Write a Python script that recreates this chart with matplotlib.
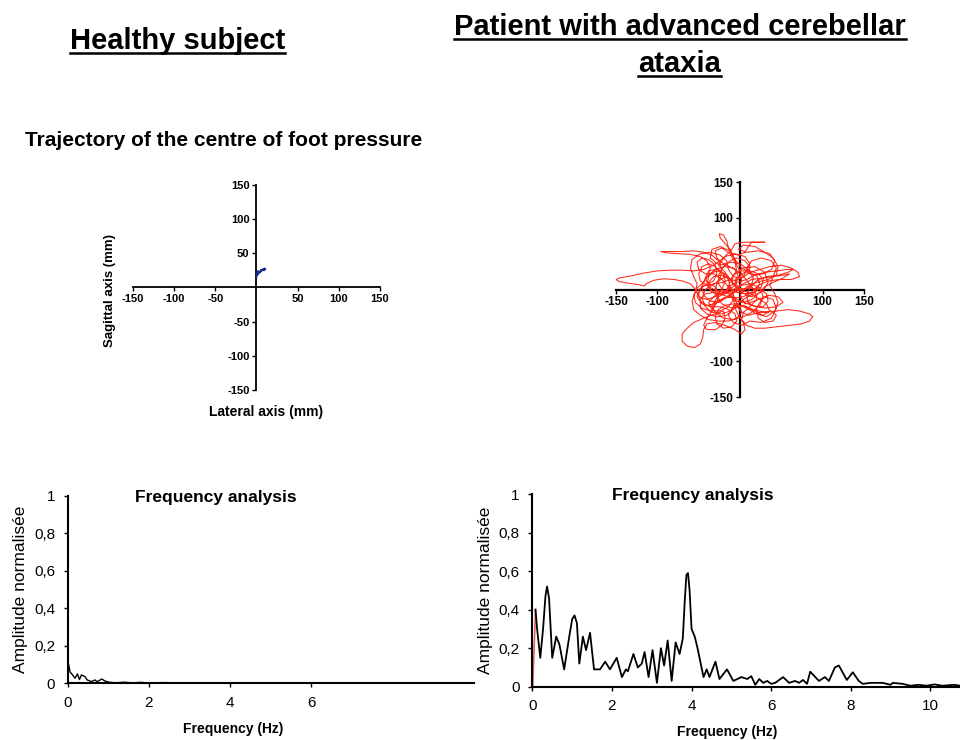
import numpy as np
import matplotlib
matplotlib.use('Agg')
import matplotlib.pyplot as plt
from matplotlib.lines import Line2D

plt.rcParams['axes.unicode_minus'] = False
SANS = ['Liberation Sans', 'DejaVu Sans']

# centre of pressure, healthy subject (mm)
healthy_x = [0, 0, 2, 1, 4, 6, 5, 8, 10, 9, 11, 7, 3, 1]
healthy_y = [15, 20, 22, 24, 23, 26, 24, 27, 28, 25, 27, 25, 21, 18]

# centre of pressure, ataxic patient (mm), traced by hand
patient_xy = [
    (-5, 5), (-12, 14), (-22, 20), (-32, 18), (-38, 10), (-36, 0), (-28, -6), (-18, -4),
    (-12, 4), (-14, 14), (-22, 24), (-30, 32), (-38, 36), (-46, 32), (-50, 22), (-48, 12),
    (-40, 6), (-30, 8), (-24, 16), (-22, 28), (-26, 40), (-34, 48), (-44, 52), (-56, 54),
    (-70, 53), (-84, 53), (-96, 53), (-88, 51), (-74, 50), (-60, 49), (-48, 46), (-40, 40),
    (-36, 30), (-38, 20), (-44, 10), (-52, 2), (-56, -8), (-54, -18), (-46, -26), (-36, -30),
    (-24, -30), (-14, -24), (-8, -14), (-8, -4), (-14, 4),
    (-4, 10), (8, 14), (18, 20), (30, 24), (44, 26), (56, 28), (64, 28), (58, 24), (46, 20),
    (32, 18), (20, 12), (12, 2), (8, -8), (10, -18), (18, -24), (28, -24), (34, -16),
    (32, -6), (24, 0), (12, 2), (0, 0), (-10, -6),
    (-20, -14), (-30, -20), (-40, -22), (-48, -16), (-50, -6), (-46, 4), (-38, 8), (-30, 4),
    (-26, -6), (-28, -18), (-34, -30), (-40, -40), (-44, -50), (-40, -56), (-30, -56),
    (-22, -50), (-18, -40), (-20, -30),
    (-30, -34), (-44, -40), (-56, -46), (-64, -54), (-70, -62), (-70, -72), (-64, -79),
    (-55, -81), (-48, -76), (-45, -66), (-44, -56), (-40, -48),
    (-30, -46), (-18, -50), (-6, -56), (2, -62), (6, -56), (4, -46), (-2, -36), (-6, -26),
    (4, -22), (16, -28), (30, -32), (44, -30), (58, -28), (72, -30), (84, -34), (88, -38),
    (84, -44), (74, -48), (60, -50), (44, -52), (30, -54), (18, -54), (8, -50), (2, -42),
    (4, -32), (12, -24), (20, -14),
    (18, -2), (10, 10), (2, 22), (-4, 34), (-8, 46), (-12, 56), (-18, 64), (-24, 72),
    (-25, 78), (-20, 76), (-16, 68), (-14, 58), (-10, 50), (-2, 48), (6, 52), (10, 60),
    (14, 66), (22, 66), (30, 66), (18, 66), (4, 66), (-6, 64), (-10, 56),
    (-20, 44), (-32, 34), (-44, 28), (-56, 26), (-70, 27), (-86, 27), (-100, 26), (-116, 23),
    (-132, 19), (-146, 16), (-150, 14), (-146, 11), (-136, 9), (-124, 7), (-116, 5),
    (-112, 9), (-104, 13), (-92, 15), (-80, 14), (-70, 12), (-60, 8), (-54, 0),
    (-50, -10), (-40, -14), (-30, -10), (-22, 0), (-18, 12), (-20, 22), (-28, 28), (-38, 26),
    (-42, 16), (-38, 4), (-28, -2), (-16, -2), (-6, 6), (-2, 18), (-6, 28), (-16, 34),
    (-28, 36), (-36, 44), (-34, 56), (-24, 60), (-12, 54), (-6, 42), (2, 30), (12, 24),
    (24, 28), (36, 32), (50, 34), (62, 30), (70, 24), (72, 18), (62, 14), (48, 14), (34, 12),
    (22, 6), (14, -4), (4, -10), (-8, -12), (-20, -8), (-32, -4), (-42, -6), (-48, -14),
    (-48, -26), (-40, -34), (-28, -38), (-16, -36), (-8, -28), (-4, -18), (-8, -8),
    (-18, -4), (-28, -12), (-34, -22), (-30, -32), (-20, -40), (-8, -42), (4, -38),
    (14, -32), (24, -22), (28, -10), (24, 2), (14, 8), (2, 6), (-6, -2),
    (-16, -10), (-26, -18), (-36, -16), (-44, -8), (-46, 4), (-42, 16), (-34, 24), (-24, 26),
    (-16, 20), (-12, 10), (-16, 0), (-24, -6), (-34, -4), (-40, 6), (-38, 18), (-30, 28),
    (-18, 32), (-8, 30), (0, 22), (2, 12), (-2, 2), (-10, -4), (-20, -2), (-26, 8), (-26, 20),
    (-20, 32), (-12, 40), (-4, 44), (6, 40), (12, 32), (10, 22), (2, 16), (-8, 18), (-14, 28),
    (-16, 40), (-24, 48), (-36, 52), (-48, 50), (-58, 42), (-60, 30), (-56, 18), (-52, 8),
    (-54, -4), (-58, -16), (-56, -28), (-48, -36), (-38, -42), (-26, -44), (-14, -44),
    (-4, -40), (2, -32), (0, -24), (-8, -20), (-18, -22), (-26, -28), (-30, -38), (-28, -48),
    (-20, -54), (-10, -52), (-4, -44), (-6, -34), (-14, -28), (-24, -24), (-36, -24),
    (-46, -20), (-52, -10), (-50, 0), (-42, 6), (-32, 12), (-28, 22), (-30, 34), (-38, 42),
    (-46, 44), (-52, 38), (-50, 28), (-42, 22), (-32, 22), (-22, 14), (-14, 4), (-4, -4),
    (8, -6), (18, -4), (26, 4), (28, 14), (22, 22), (12, 26), (0, 26), (-8, 20), (-10, 10),
    (-4, 2), (6, 0), (14, 6), (16, 16), (10, 28), (0, 36), (-10, 38), (-20, 36), (-28, 44),
    (-30, 54), (-22, 58), (-12, 50), (-6, 38), (-4, 26), (-10, 16), (-20, 10), (-32, 8),
    (-42, 0), (-46, -12), (-42, -24), (-34, -32), (-22, -34), (-12, -30), (-6, -20),
    (-10, -10), (-20, -12), (-30, -18), (-34, -28), (-38, -18), (-30, -8), (-18, -6),
    (-8, 0), (4, 8), (14, 14), (28, 16), (40, 18), (52, 20), (60, 22), (52, 16), (40, 10),
    (30, 4), (22, -6), (14, -14), (4, -18), (-6, -16), (-12, -8),
    (0, -16), (14, -22), (30, -26), (44, -24), (52, -18), (46, -10), (34, -8), (26, -14),
    (20, -26), (22, -40), (30, -46), (40, -44), (44, -36), (38, -30), (24, -32), (10, -36),
    (0, -30), (-4, -20),
    (8, -26), (20, -34), (32, -38), (42, -30), (46, -18), (42, -6), (36, 6), (40, 18),
    (44, 30), (38, 40), (26, 44), (14, 40), (8, 30), (16, 20), (28, 22), (38, 28), (42, 40),
    (36, 50), (22, 54), (8, 52), (-2, 56), (4, 62), (18, 60), (30, 52), (40, 44), (46, 32),
    (44, 20), (34, 14), (20, 10), (8, 4), (0, -8), (6, -20), (18, -16), (30, -10), (40, -14),
    (44, -26), (38, -40), (26, -46), (12, -44), (2, -50), (-8, -46), (-14, -36), (-8, -24),
    (4, -14), (16, -6), (24, 8), (20, 20), (6, 24), (-6, 14), (-2, 0), (10, -4), (22, -12),
    (32, -20), (36, -30), (28, -36), (14, -28), (2, -22), (-10, -26), (-22, -20), (-30, -6),
    (-28, 10), (-18, 18), (-6, 12), (4, 18), (12, 36), (6, 46), (-6, 50), (-18, 46),
    (-26, 34), (-18, 24), (-8, 8), (2, -4), (14, -10), (28, -2), (34, 10), (30, 24),
    (18, 32), (4, 30), (-6, 22),
]
patient_x = [p[0] for p in patient_xy]
patient_y = [p[1] for p in patient_xy]

# normalised spectra
healthy_f = [0, 0.06, 0.12, 0.18, 0.24, 0.29, 0.34, 0.43, 0.48, 0.59, 0.67, 0.73, 0.84,
             0.92, 1.04, 1.2, 1.4, 1.6, 1.8, 2.0, 2.4, 2.6, 3.0, 4.0, 5.0, 6.0, 7.5]
healthy_a = [0.125, 0.06, 0.045, 0.027, 0.05, 0.02, 0.045, 0.035, 0.018, 0.009, 0.018, 0.009,
             0.023, 0.012, 0.005, 0.003, 0.006, 0.002, 0.005, 0.002, 0.004, 0.003, 0.001,
             0.002, 0.001, 0.002, 0.0]

patient_f = [0.08, 0.12, 0.2, 0.27, 0.33, 0.37, 0.42, 0.5, 0.6, 0.68, 0.8, 0.92, 1.0, 1.06,
             1.12, 1.18, 1.27, 1.35, 1.45, 1.55, 1.7, 1.83, 1.95, 2.12, 2.25, 2.35, 2.4,
             2.54, 2.65, 2.75, 2.82, 2.92, 3.02, 3.13, 3.23, 3.31, 3.4, 3.5, 3.6, 3.7,
             3.78, 3.83, 3.87, 3.91, 3.95, 4.0, 4.08, 4.15, 4.3, 4.38, 4.45, 4.6, 4.7,
             4.89, 5.05, 5.25, 5.4, 5.5, 5.6, 5.7, 5.8, 5.9, 6.0, 6.1, 6.3, 6.45, 6.6,
             6.7, 6.8, 6.9, 6.98, 7.2, 7.35, 7.45, 7.6, 7.7, 7.9, 8.05, 8.2, 8.3, 8.5, 8.8,
             9.0, 9.05, 9.3, 9.5, 9.7, 9.9, 10.1, 10.3, 10.6, 10.75]
patient_a = [0.40, 0.30, 0.15, 0.30, 0.47, 0.52, 0.46, 0.15, 0.26, 0.22, 0.09, 0.25, 0.35, 0.37,
             0.33, 0.12, 0.26, 0.19, 0.28, 0.09, 0.09, 0.13, 0.09, 0.15, 0.05, 0.09, 0.08,
             0.17, 0.10, 0.12, 0.18, 0.05, 0.19, 0.02, 0.20, 0.11, 0.24, 0.03, 0.23, 0.17,
             0.25, 0.45, 0.58, 0.59, 0.50, 0.30, 0.26, 0.20, 0.05, 0.09, 0.05, 0.13, 0.04,
             0.09, 0.03, 0.05, 0.04, 0.055, 0.01, 0.04, 0.02, 0.03, 0.015, 0.02, 0.05, 0.02, 0.03,
             0.02, 0.035, 0.015, 0.078, 0.03, 0.05, 0.03, 0.10, 0.11, 0.035, 0.075, 0.03, 0.015,
             0.02, 0.02, 0.01, 0.02, 0.015, 0.005, 0.01, 0.005, 0.012, 0.005, 0.01, 0.005]

amp_ticks = [0, 0.2, 0.4, 0.6, 0.8, 1]
amp_labels = ['0', '0,2', '0,4', '0,6', '0,8', '1']

fig = plt.figure(figsize=(9.6, 7.4), dpi=100)


def cross_axes(ax, xt, yt, lw, fs):
    ax.set_xlim(-150, 150)
    ax.set_ylim(-150, 150)
    ax.patch.set_alpha(0)
    for s in ['top', 'right']:
        ax.spines[s].set_visible(False)
    for s in ['left', 'bottom']:
        ax.spines[s].set_position(('data', 0))
        ax.spines[s].set_linewidth(lw)
    ax.set_xticks(xt)
    ax.set_yticks(yt)
    ax.tick_params(direction='out', length=3, width=1, pad=2)
    for lab in ax.get_xticklabels() + ax.get_yticklabels():
        lab.set_fontsize(fs)
        lab.set_fontweight('bold')
        lab.set_family(SANS)


ax1 = fig.add_axes([0.1385, 0.473, 0.2573, 0.277])
ax1.plot(healthy_x, healthy_y, color='#1a2a8a', lw=1.2, zorder=3)
cross_axes(ax1, [-150, -100, -50, 50, 100, 150], [-150, -100, -50, 50, 100, 150], 1.3, 8)

ax2 = fig.add_axes([0.6417, 0.4635, 0.2583, 0.2905])
ax2.plot(patient_x, patient_y, color='#ff2a1a', lw=0.75, zorder=3)
cross_axes(ax2, [-150, -100, 100, 150], [-150, -100, 100, 150], 1.6, 8.5)


def freq_axes(ax, xmax, xt, tx, lx, ly):
    ax.set_xlim(0, xmax)
    ax.set_ylim(0, 1)
    ax.patch.set_alpha(0)
    for s in ['top', 'right']:
        ax.spines[s].set_visible(False)
    for s in ['left', 'bottom']:
        ax.spines[s].set_linewidth(1.5)
    ax.set_xticks(xt)
    ax.set_yticks(amp_ticks)
    ax.set_yticklabels(amp_labels)
    ax.tick_params(direction='out', length=3, width=1, pad=6)
    for lab in ax.get_xticklabels() + ax.get_yticklabels():
        lab.set_fontsize(11)
        lab.set_family(SANS)
    ax.text(tx, 0.99, 'Frequency analysis', transform=ax.transAxes, ha='center', va='center',
            fontsize=12.5, fontweight='bold', family=SANS)
    ax.set_ylabel('Amplitude normalisée', fontsize=12.5, family=SANS, labelpad=4)
    ax.set_xlabel('Frequency (Hz)', fontsize=10, fontweight='bold', family=SANS)
    ax.xaxis.set_label_coords(lx, ly)


ax3 = fig.add_axes([0.0705, 0.0766, 0.423, 0.2535])
ax3.plot([0, 0], [0, healthy_a[0]], color='#7fbf7f', lw=1.2)
ax3.plot(healthy_f, healthy_a, color='black', lw=1.0)
freq_axes(ax3, 10, [0, 2, 4, 6], 0.365, 0.407, -0.205)

ax4 = fig.add_axes([0.5545, 0.072, 0.4458, 0.2604])
ax4.plot([0.01, patient_f[0]], [0, patient_a[0]], color='#e06060', lw=1.2)
ax4.plot(patient_f, patient_a, color='black', lw=1.3)
freq_axes(ax4, 10.75, [0, 2, 4, 6, 8, 10], 0.376, 0.456, -0.2)

# figure titles
t1 = fig.text(0.185, 0.945, 'Healthy subject', ha='center', va='center',
              fontsize=21, fontweight='bold', family=SANS)
t2 = fig.text(0.708, 0.964, 'Patient with advanced cerebellar', ha='center', va='center',
              fontsize=21, fontweight='bold', family=SANS)
t3 = fig.text(0.708, 0.914, 'ataxia', ha='center', va='center',
              fontsize=21, fontweight='bold', family=SANS)
fig.text(0.026, 0.81, 'Trajectory of the centre of foot pressure', ha='left', va='center',
         fontsize=15, fontweight='bold', family=SANS)
fig.text(0.115, 0.608, 'Sagittal axis (mm)', rotation=90, ha='center', va='center',
         fontsize=9.5, fontweight='bold', family=SANS)
fig.text(0.277, 0.443, 'Lateral axis (mm)', ha='center', va='center',
         fontsize=10, fontweight='bold', family=SANS)

# underline the titles
fig.canvas.draw()
r = fig.canvas.get_renderer()
for t in [t1, t2, t3]:
    bb = t.get_window_extent(renderer=r).transformed(fig.transFigure.inverted())
    fig.add_artist(Line2D([bb.x0, bb.x1], [bb.y0 + 0.002, bb.y0 + 0.002],
                          color='black', lw=1.8, transform=fig.transFigure))

fig.savefig('out.png', dpi=100)
